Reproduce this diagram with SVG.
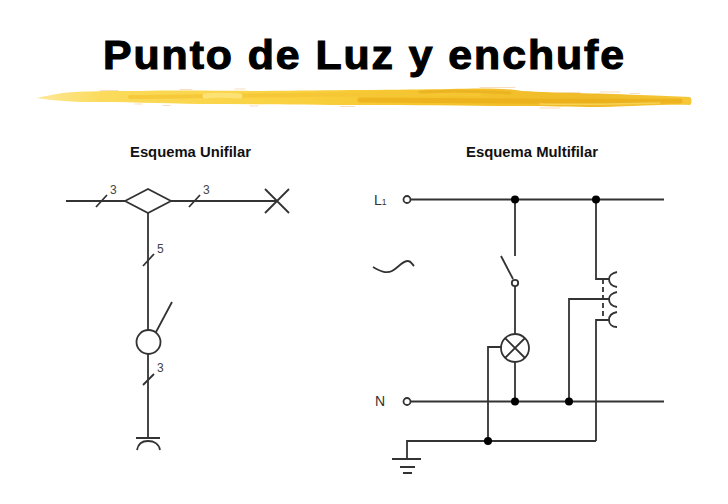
<svg xmlns="http://www.w3.org/2000/svg" width="728" height="504" viewBox="0 0 728 504">
<style>
text{font-family:"Liberation Sans",Arial,sans-serif;fill:#222}
.title{font-size:40px;font-weight:700;fill:#000;stroke:#000;stroke-width:1.100px}
.head{font-size:14px;font-weight:700;fill:#111}
.num{font-size:12px;fill:#444}
.lab{font-size:14px;fill:#333}
.w{fill:none;stroke:#333;stroke-width:1.800;stroke-linecap:butt}
.o{fill:#fff;stroke:#333;stroke-width:1.800}
.d{fill:#000}
.s{fill:none;stroke-linecap:round}
</style>
<defs>
<linearGradient id="br" x1="0" x2="1" y1="0" y2="0">
<stop offset="0" stop-color="#fde89a"/><stop offset=".1" stop-color="#fbdb5c"/><stop offset=".35" stop-color="#fad344"/><stop offset=".6" stop-color="#f5c42c"/><stop offset=".85" stop-color="#efbb2a"/><stop offset="1" stop-color="#f6c838"/>
</linearGradient>
</defs>
<rect width="728" height="504" fill="#fff"/>
<g id="title">
<text class="title" transform="translate(103 69) scale(1.07 1)" x="0" y="0" textLength="487" lengthAdjust="spacing">Punto de Luz y enchufe</text>
<path d="M36 98 L62 93 C85 91 110 91 140 91 C180 90 220 91 262 91 C330 90 400 90 450 89 C480 88 505 88 522 91 C560 93 590 93 640 95 C660 96 675 96 690 97 C692 99 692 103 690 105 C670 104 640 106 600 107 C570 107 545 106 520 106 C470 106 420 105 360 105 C300 105 250 104 200 104 C160 103 120 102 90 102 C70 102 50 100 36 98Z" fill="url(#br)"/>
<path class="s" d="M130 97C220 96 330 94 480 94" stroke="#f5c535" stroke-width="4" opacity=".8"/>
<path class="s" d="M360 100C430 100 530 102 680 101" stroke="#e9ac18" stroke-width="5" opacity=".7"/>
<path class="s" d="M420 92C450 91 480 91 510 93" stroke="#eab020" stroke-width="3" opacity=".8"/>
<path class="s" d="M205 96C215 95 225 95 240 96" stroke="#fde37c" stroke-width="5" opacity=".9"/>
<path class="s" d="M540 104C580 105 620 104 660 103" stroke="#f7d458" stroke-width="1.500" opacity=".9"/>
<path class="s" d="M100 90.500H118M180 89.500H192M235 89H245M480 87.500H515M565 92.500H580M600 92H620M630 93.500H640M135 104H142M163 105.500H170M250 106H258M340 106.500H355M540 108H560" stroke="#f3cfa8" stroke-width="1" opacity=".7"/>
</g>
<g id="head-unifilar"><text class="head" x="130" y="157" textLength="121" lengthAdjust="spacingAndGlyphs">Esquema Unifilar</text></g>
<g id="head-multifilar"><text class="head" x="466" y="157" textLength="132" lengthAdjust="spacingAndGlyphs">Esquema Multifilar</text></g>

<g id="connectors">
<path class="w" d="M66 201H125M171 201H277M148 213V330M148 354V438"/>
<path class="w" d="M96 207L107 195M189 207L200 195M143 266L154 254M143 385L154 374"/>
<path class="w" d="M410.500 199.500H664M410.500 401.500H664"/>
<path class="w" d="M515 199.500V256M515 286V334M515 362V401.500"/>
<path class="w" d="M596 199.500V279H609M569 401.500V299H609M596 441V320H609"/>
<path class="w" d="M501 347H488V441M407 459V441H596"/>
<path class="w" d="M603 279V320" stroke-dasharray="5 3"/>
</g>

<g id="uni-branch"><path class="o" d="M125 201L148 189L171 201L148 213Z"/></g>
<g id="uni-lamp"><path class="w" d="M265 189L289 213M265 213L289 189"/></g>
<g id="uni-switch"><circle class="o" cx="148.500" cy="342" r="12"/><path class="w" d="M156 332L172 302"/></g>
<g id="uni-socket"><path class="w" d="M136 438H160M137 450C138 444 142 441 148 441C154 441 159 444 160 450"/></g>
<g id="labels-uni">
<text class="num" x="110" y="194">3</text><text class="num" x="203" y="194">3</text><text class="num" x="157" y="253">5</text><text class="num" x="157" y="372">3</text>
</g>

<g id="L1"><text class="lab" x="374" y="205">L<tspan font-size="8.500">1</tspan></text><circle class="o" cx="407" cy="199.500" r="3.500"/></g>
<g id="N"><text class="lab" x="375" y="406">N</text><circle class="o" cx="407" cy="401.500" r="3.500"/></g>
<g id="ac"><path class="w" d="M373 267C380 271 386 274 392 271C398 268 402 261 408 261C411 261 412 264 414 266"/></g>
<g id="switch"><path class="w" d="M501 256L513 279"/><circle class="o" cx="515" cy="283" r="3.200"/></g>
<g id="lamp"><circle class="o" cx="515" cy="348" r="14"/><path class="w" d="M505 338L525 358M505 358L525 338"/></g>
<g id="sockets">
<path class="w" d="M617 272C612 273 609 276 609 279C609 283 612 286 617 287"/>
<path class="w" d="M617 292C612 293 609 296 609 299C609 303 612 306 617 307"/>
<path class="w" d="M617 312C612 313 609 316 609 320C609 324 612 327 617 327"/>
</g>
<g id="ground"><path class="w" d="M392 459H421M400 467H415M403 473H412"/></g>
<g id="junctions">
<circle class="d" cx="515" cy="199.500" r="4"/><circle class="d" cx="596" cy="199.500" r="4"/>
<circle class="d" cx="515" cy="401.500" r="4"/><circle class="d" cx="569" cy="401.500" r="4"/>
<circle class="d" cx="488" cy="441" r="4"/>
</g>
</svg>
